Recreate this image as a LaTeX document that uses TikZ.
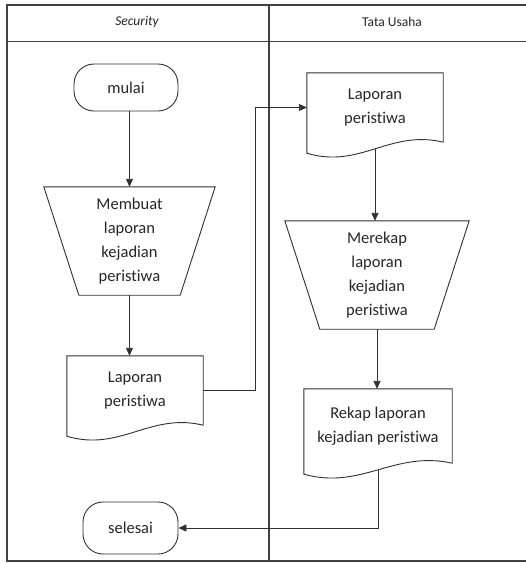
\documentclass[tikz,border=0pt]{standalone}
\usepackage{fontspec}
\setmainfont{Carlito}[Ligatures={NoCommon}]
\usetikzlibrary{arrows.meta,calc}
\definecolor{ln}{HTML}{303030}
\definecolor{fr}{HTML}{404040}
\tikzset{
  flow/.style={draw=ln, line width=0.9pt, line join=miter},
  arr/.style={flow, -{Triangle[length=8pt,width=7pt]}},
  txt/.style={font=\fontsize{16.5}{24}\selectfont, align=center, text=black!85, inner sep=0pt},
  term/.style={txt, draw=ln, line width=0.9pt, rounded corners=20pt},
  hdr/.style={font=\fontsize{13.5}{16}\selectfont, text=black!85, inner sep=0pt},
  frame/.style={draw=fr, line width=1.2pt}
}
\newcommand\docoutline[1]{\draw[flow] ($(#1.south west)+(0,11)$) -- (#1.north west) -- (#1.north east) -- (#1.south east) .. controls ($(#1.south west)!0.61!(#1.south east)+(0,-13)$) and ($(#1.south west)!0.39!(#1.south east)+(0,27)$) .. ($(#1.south west)+(0,11)$) -- cycle;}
\newcommand\trapoutline[1]{\draw[flow] (#1.north west) -- (#1.north east) -- ($(#1.south east)+(-35,0)$) -- ($(#1.south west)+(35,0)$) -- cycle;}
\begin{document}
\begin{tikzpicture}[x=1pt,y=-1pt]
\useasboundingbox (0,0) rectangle (526,563);
% frame
\draw[frame] (530,5) -- (7,5) -- (7,561) -- (530,561);
\draw[frame] (7,41.5) -- (530,41.5);
\draw[frame] (269,5) -- (269,561);
\node[hdr, font=\fontsize{13.5}{16}\selectfont\itshape] (h1) at (137,22) {Security};
\node[hdr] (h2) at (392,22) {Tata Usaha};
% left lane
\node[term, minimum width=104, minimum height=47] (mulai) at (126,87.5) {mulai};
\node[txt, minimum width=171, minimum height=108] (trap1) at (129.5,241) {Membuat\\laporan\\kejadian\\peristiwa};
\trapoutline{trap1}
\node[txt, minimum width=136, minimum height=69] (doc1) at (135,390.5) {Laporan\\peristiwa};
\docoutline{doc1}
\node[term, minimum width=95, minimum height=52] (selesai) at (130.5,528) {selesai};
% right lane
\node[txt, minimum width=136, minimum height=69] (doc2) at (375,107.5) {Laporan\\peristiwa};
\docoutline{doc2}
\node[txt, minimum width=184, minimum height=108] (trap2) at (377,275) {Merekap\\laporan\\kejadian\\peristiwa};
\trapoutline{trap2}
\node[txt, minimum width=148, minimum height=74] (doc3) at (378,426) {Rekap laporan\\kejadian peristiwa};
\docoutline{doc3}
% connectors
\coordinate (j1) at (255,0);
\draw[arr] (trap1.north |- mulai.south) -- (trap1.north);
\draw[arr] (trap1.south) -- (trap1.south |- doc1.north);
\draw[arr] (doc1.east) -- (doc1.east -| j1) |- (doc2.west);
\draw[arr] ($(doc2.south)+(0,6.6)$) -- (doc2.south |- trap2.north);
\draw[arr] (trap2.south) -- (trap2.south |- doc3.north);
\draw[arr] ($(doc3.south)+(0,6.6)$) |- (selesai.east);
\end{tikzpicture}
\end{document}
